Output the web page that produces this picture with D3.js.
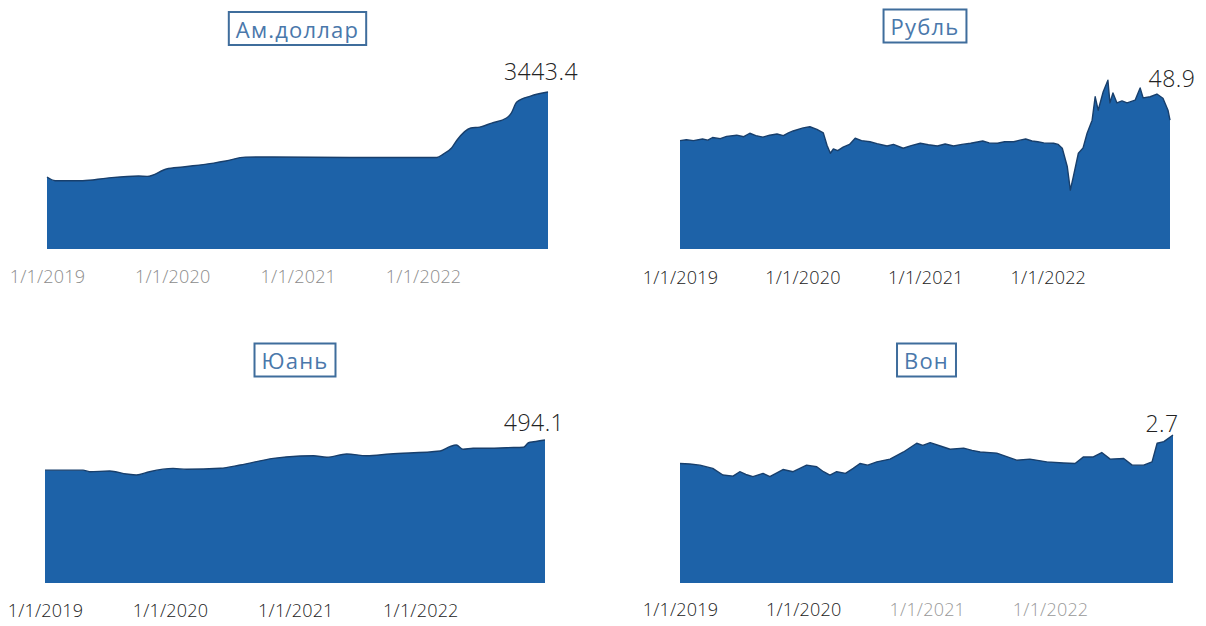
<!DOCTYPE html>
<html><head><meta charset="utf-8">
<script src="https://cdn.jsdelivr.net/npm/d3@7"></script>
<style>
html,body{margin:0;padding:0;background:#fff;}
svg{display:block;font-family:"Open Sans","Noto Sans",sans-serif;}
</style></head>
<body><svg id="c" width="1206" height="626"></svg>
<script>
// ---------- DATA ----------
const titles = ["Ам.доллар", "Рубль", "Юань", "Вон"];
const endLabels = ["3443.4", "48.9", "494.1", "2.7"];
const tickLabels = ["1/1/2019", "1/1/2020", "1/1/2021", "1/1/2022"];
const tickDates = ["2019-01-01", "2020-01-01", "2021-01-01", "2022-01-01"];

const usdDates = ["2019-01-01","2019-01-25","2019-04-15","2019-06-25","2019-09-25","2019-10-20","2019-12-15","2020-02-01","2020-05-01","2020-06-05","2020-08-01","2020-10-20","2021-06-01","2022-02-10","2022-03-01","2022-03-25","2022-04-10","2022-05-20","2022-06-15","2022-07-20","2022-09-01","2022-09-15","2022-10-01","2022-11-10","2022-12-31"];
const usdValues = [2662,2628,2628,2652,2671,2668,2735,2754,2790,2809,2845,2846,2841,2841,2873,2928,3002,3112,3121,3158,3204,3250,3351,3406,3443.4];

const rubDates = ["2019-01-01","2019-01-20","2019-02-10","2019-03-09","2019-03-25","2019-04-08","2019-05-01","2019-05-20","2019-06-19","2019-07-10","2019-07-28","2019-08-15","2019-09-05","2019-09-25","2019-10-17","2019-11-05","2019-11-20","2019-12-04","2020-01-03","2020-01-23","2020-02-13","2020-03-03","2020-03-14","2020-03-24","2020-04-02","2020-04-15","2020-05-01","2020-05-20","2020-06-06","2020-06-25","2020-07-20","2020-08-10","2020-09-09","2020-09-28","2020-10-27","2020-11-20","2020-12-17","2021-01-10","2021-02-06","2021-03-01","2021-03-26","2021-04-20","2021-05-16","2021-06-21","2021-07-10","2021-08-04","2021-08-25","2021-09-21","2021-10-10","2021-10-27","2021-11-15","2021-12-02","2021-12-20","2022-01-18","2022-02-01","2022-02-13","2022-02-28","2022-03-09","2022-03-18","2022-04-02","2022-04-16","2022-04-28","2022-05-13","2022-05-22","2022-05-31","2022-06-15","2022-06-29","2022-07-05","2022-07-14","2022-07-26","2022-08-10","2022-08-25","2022-09-18","2022-10-03","2022-10-12","2022-11-02","2022-11-22","2022-12-10","2022-12-25","2022-12-31"];
const rubValues = [38.2,38.4,38.2,38.6,38.3,39.0,38.7,39.3,39.6,39.2,40.1,39.5,39.1,39.6,39.9,39.5,40.2,40.7,41.5,41.8,41.1,40.2,37.0,34.9,36.0,35.6,36.5,37.2,38.8,38.2,37.9,37.4,36.8,37.2,36.2,36.9,37.5,37.1,36.8,37.3,36.8,37.2,37.5,38.1,37.6,37.5,37.9,37.9,38.3,38.6,38.1,37.9,37.6,37.5,37.2,36.2,31.4,25.3,28.8,34.9,36.3,40.1,43.5,49.6,46.1,50.9,53.9,48.0,50.6,48.0,48.5,48.0,48.7,51.9,49.3,49.6,50.3,49.2,46.1,43.5];

const cnyDates = ["2019-01-01","2019-04-22","2019-05-11","2019-07-09","2019-08-27","2019-09-25","2019-11-02","2020-01-10","2020-02-19","2020-05-27","2020-07-24","2020-10-29","2021-01-15","2021-02-23","2021-04-03","2021-05-31","2021-07-28","2021-10-04","2022-02-28","2022-03-28","2022-04-16","2022-05-06","2022-06-04","2022-07-23","2022-09-10","2022-10-29","2022-11-13","2022-11-28","2022-12-31"];
const cnyValues = [390,390,384.6,387,376.6,373,384.6,396,392.8,396.3,407.7,430.8,438.8,439.8,434.3,445.7,439.8,445.7,456,471,476.8,462,465.4,465.4,467.5,468.8,484.7,488,494.1];

const krwDates = ["2019-01-01","2019-01-30","2019-03-01","2019-04-08","2019-05-08","2019-06-07","2019-06-27","2019-07-15","2019-08-05","2019-09-04","2019-09-24","2019-11-02","2019-12-02","2020-01-11","2020-02-10","2020-03-01","2020-03-20","2020-04-09","2020-05-05","2020-05-28","2020-06-17","2020-07-10","2020-08-06","2020-09-14","2020-10-24","2020-12-02","2020-12-20","2021-01-11","2021-02-10","2021-03-11","2021-04-20","2021-05-15","2021-06-08","2021-07-27","2021-09-24","2021-11-02","2021-12-22","2022-02-10","2022-03-16","2022-04-10","2022-05-09","2022-06-03","2022-06-28","2022-08-07","2022-09-01","2022-10-05","2022-10-30","2022-11-14","2022-12-04","2022-12-31"];
const krwValues = [2.18,2.17,2.15,2.09,1.97,1.95,2.03,1.98,1.94,2.00,1.94,2.07,2.03,2.15,2.12,2.03,1.97,2.03,2.00,2.09,2.18,2.15,2.21,2.26,2.39,2.55,2.51,2.56,2.50,2.44,2.46,2.42,2.39,2.37,2.24,2.26,2.21,2.19,2.18,2.30,2.30,2.38,2.26,2.27,2.15,2.15,2.21,2.55,2.58,2.70];

// ---------- LAYOUT ----------
const panels = [
  {title:titles[0], label:endLabels[0], dates:usdDates, values:usdValues, x0:47, x1:548, base:249, top:92, dom:[2000,3443.4], titleY:28.5, tickY:283, tickColors:["#8c8c8c","#8c8c8c","#8c8c8c","#8c8c8c"], labelDx:-7, labelDy:12, curve:d3.curveMonotoneX},
  {title:titles[1], label:endLabels[1], dates:rubDates, values:rubValues, x0:680, x1:1170, base:249, top:95.2, dom:[10,50], titleY:26, tickY:284, tickColors:["#222","#222","#222","#222"], labelDx:2, labelDy:7, curve:d3.curveLinear},
  {title:titles[2], label:endLabels[2], dates:cnyDates, values:cnyValues, x0:45, x1:545, base:583, top:440, dom:[0,494.1], titleY:360, tickY:617, tickColors:["#222","#222","#222","#222"], labelDx:-11, labelDy:9, curve:d3.curveMonotoneX},
  {title:titles[3], label:endLabels[3], dates:krwDates, values:krwValues, x0:680, x1:1173, base:583, top:435, dom:[0,2.7], titleY:360, tickY:616, tickColors:["#222","#222","#999","#999"], labelDx:-11, labelDy:3, curve:d3.curveLinear}
];

const svg = d3.select("#c");
const parse = d3.timeParse("%Y-%m-%d");
const fill = "#1d62a8", edge = "#183f6c";

panels.forEach(p => {
  const data = p.dates.map((d,i) => ({d:parse(d), v:p.values[i]}));
  const x = d3.scaleTime().domain([parse("2019-01-01"), parse("2022-12-31")]).range([p.x0, p.x1]);
  const y = d3.scaleLinear().domain(p.dom).range([p.base, p.top]);
  const g = svg.append("g");

  g.append("path").datum(data)
    .attr("d", d3.area().x(d=>x(d.d)).y0(p.base).y1(d=>y(d.v)).curve(p.curve))
    .attr("fill", fill);
  g.append("path").datum(data)
    .attr("d", d3.line().x(d=>x(d.d)).y(d=>y(d.v)).curve(p.curve))
    .attr("fill","none").attr("stroke",edge).attr("stroke-width",1.4).attr("stroke-linejoin","round");

  // axis ticks (labels only)
  const ax = g.append("g").attr("transform",`translate(0,${p.tickY})`)
    .call(d3.axisBottom(x).tickValues(tickDates.map(parse)).tickFormat((d,i)=>tickLabels[i]).tickSize(0).tickPadding(0));
  ax.select(".domain").remove();
  ax.selectAll("text").attr("dy",0).attr("font-size",18).attr("font-family","'Open Sans',sans-serif")
    .attr("font-weight",300).attr("letter-spacing",0.2).attr("fill",(d,i)=>p.tickColors[i]);

  // end label
  const last = data.slice(-4);
  const ly = y(d3.max(last, d=>d.v)) - p.labelDy;
  g.append("text").attr("x", p.x1 + p.labelDx).attr("y", ly)
    .attr("text-anchor","middle").attr("font-size",23).attr("font-weight",300)
    .attr("letter-spacing",0.5).attr("fill","#222").text(p.label);

  // title box
  const cx = (p.x0 + p.x1)/2;
  const tg = g.append("g");
  const rect = tg.append("rect");
  const t = tg.append("text").attr("x",cx).attr("y",p.titleY).attr("text-anchor","middle")
    .attr("dominant-baseline","central").attr("font-size",22).attr("letter-spacing",1.2)
    .attr("fill","#4a78ab").text(p.title);
  const bb = t.node().getBBox();
  rect.attr("x", cx - bb.width/2 - 7).attr("y", p.titleY - 16.5)
    .attr("width", bb.width + 14).attr("height", 33)
    .attr("fill","#fff").attr("stroke","#3f6d9c").attr("stroke-width",2);
});
</script></body></html>
